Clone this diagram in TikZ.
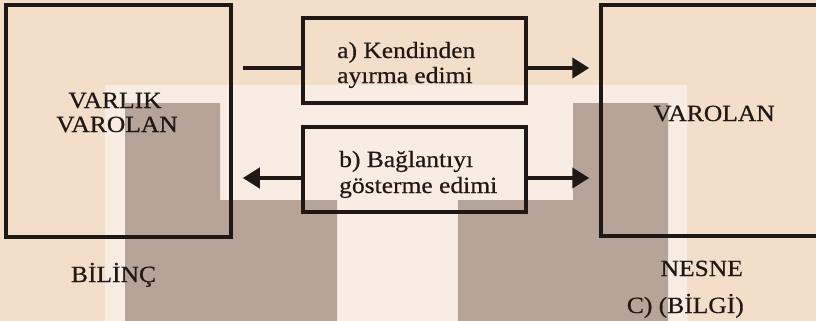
\documentclass[tikz,border=0pt]{standalone}
\usepackage{fontspec}
\setmainfont{Liberation Serif}[FakeStretch=1.1,FakeBold=0.5]
\usetikzlibrary{arrows.meta}
\definecolor{paperbase}{RGB}{243,222,201}
\definecolor{paperlight}{RGB}{249,237,227}
\definecolor{panelgray}{RGB}{181,164,151}
\definecolor{ink}{RGB}{32,24,20}

\begin{document}
\begin{tikzpicture}[x=1pt,y=-1pt,
  bigbox/.style={draw=ink,line width=3.5pt,inner sep=0pt},
  actbox/.style={draw=ink,line width=3.5pt,inner sep=0pt,
                 minimum width=223pt,minimum height=85pt},
  txt/.style={text=ink,inner sep=0pt,font=\fontsize{23.2}{25}\selectfont},
  stem/.style={draw=ink,line width=4pt},
  flow/.style={stem,shorten >=10pt,-{Triangle[length=17pt,width=20pt]}}]

  \path[use as bounding box] (0,0) rectangle (816,321);
  \clip (0,0) rectangle (816,321);

  % paper and background panels
  \fill[paperbase] (0,0) rectangle (816,321);
  \fill[paperlight] (105,85) rectangle (687,321);
  \fill[panelgray] (125,103) -- (220,103) -- (220,200) -- (337,200)
                   -- (337,321) -- (125,321) -- cycle;
  \fill[panelgray] (573,103) -- (668,103) -- (668,321) -- (458,321)
                   -- (458,200) -- (573,200) -- cycle;

  % main boxes
  \node[bigbox,minimum width=225pt,minimum height=232pt] (bil) at (118.5,121) {};
  \node[bigbox,minimum width=240pt,minimum height=231pt] (nes) at (721,120.5) {};

  % act boxes
  \node[actbox] (acta) at (414.5,60.5) {};
  \node[actbox] (actb) at (414.5,169.5) {};

  % texts
  \node[txt,anchor=base] (t1) at (115,108) {VARLIK};
  \node[txt,anchor=base] (t2) at (117,132) {VAROLAN};
  \node[txt,anchor=base] (t3) at (714,121) {VAROLAN};
  \node[txt,anchor=base] (t4) at (113.5,282) {BİLİNÇ};
  \node[txt,anchor=base east] (t5) at (743,276) {NESNE};
  \node[txt,anchor=base east] (t6) at (744,313) {C) (BİLGİ)};
  \node[txt,anchor=base west] (a1) at (337,58) {a) Kendinden};
  \node[txt,anchor=base west] (a2) at (337,83) {ayırma edimi};
  \node[txt,anchor=base west] (b1) at (339,167) {b) Bağlantıyı};
  \node[txt,anchor=base west] (b2) at (339,193) {gösterme edimi};

  % connectors
  \coordinate (a0) at (243,68);
  \coordinate (b0) at (414.5,178);
  \draw[stem] (a0) -- (a0 -| acta.west);
  \draw[flow] (acta.east |- a0) -- (nes.west |- a0);
  \draw[flow] (actb.west |- b0) -- (bil.east |- b0);
  \draw[flow] (actb.east |- b0) -- (nes.west |- b0);
\end{tikzpicture}
\end{document}
